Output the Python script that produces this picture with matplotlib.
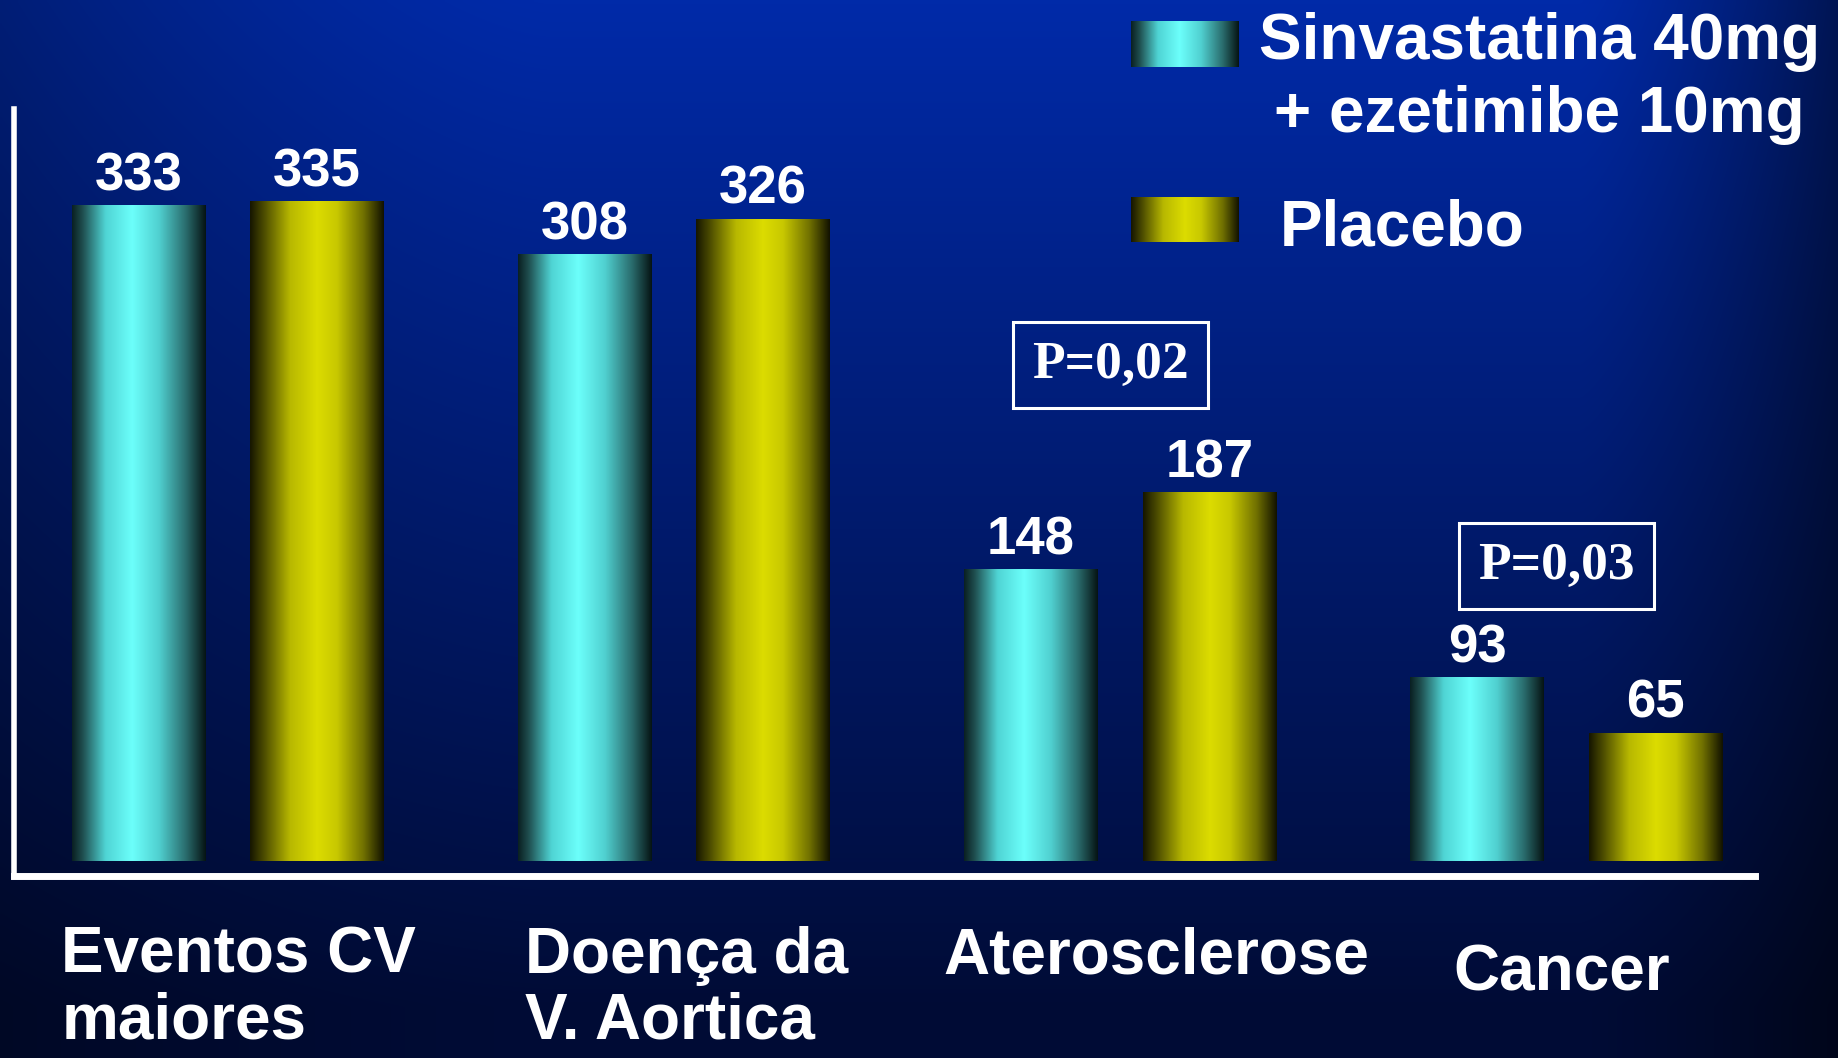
import numpy as np
import matplotlib
matplotlib.use("Agg")
import matplotlib.pyplot as plt
from matplotlib.colors import LinearSegmentedColormap
from matplotlib.transforms import blended_transform_factory

# ---------------- data ----------------
categories = ["Eventos CV\nmaiores", "Doença da\nV. Aortica", "Aterosclerose", "Cancer"]
sinva_eze = [333, 308, 148, 93]
placebo = [335, 326, 187, 65]
series_names = ["Sinvastatina 40mg\n+ ezetimibe 10mg", "Placebo"]
p_texts = ["P=0,02", "P=0,03"]
p_categories = [2, 3]
p_text_y = [252, 150]

# ---------------- layout / style ----------------
W, H, DPI = 18.38, 10.58, 100
label_dx = [0.025, 0.028, 0.08, -0.01]      # small horizontal nudges of category labels
label_top = [0.125, 0.125, 0.124, 0.108]    # figure-fraction top of category labels
bold_sans = ["Liberation Sans", "DejaVu Sans"]
bold_serif = ["Liberation Serif", "DejaVu Serif"]

cyan_cmap = LinearSegmentedColormap.from_list("cyl_cyan", [
    (0.00, "#0a2022"), (0.08, "#1f4f50"), (0.25, "#4fd4d4"), (0.45, "#6cfffb"),
    (0.65, "#50d0d0"), (0.85, "#2a6d6e"), (1.00, "#061414")])
yellow_cmap = LinearSegmentedColormap.from_list("cyl_yellow", [
    (0.00, "#161600"), (0.10, "#4a4a00"), (0.30, "#b8b800"), (0.50, "#dcdc00"),
    (0.65, "#c8c800"), (0.85, "#707000"), (1.00, "#121200")])
grad = np.linspace(0, 1, 256).reshape(1, -1)

fig = plt.figure(figsize=(W, H), dpi=DPI)

# background gradient
bg = fig.add_axes([0, 0, 1, 1], zorder=-10)
ny, nx = 300, 600
yy = np.linspace(0, 1, ny)[:, None]
xx = np.linspace(0, 1, nx)[None, :]
top = np.array([0.0, 0.165, 0.66])
bottom = np.array([0.0, 0.045, 0.21])
t = np.clip(yy * 1.05, 0, 1)
base = top[None, None, :] * (1 - t[..., None]) + bottom[None, None, :] * t[..., None]
hfac = 1 - 0.5 * np.clip((xx - 0.86) / 0.14, 0, 1) ** 1.3 - 0.3 * np.clip((0.3 - xx) / 0.3, 0, 1) ** 1.5
img = base * hfac[..., None]
bg.imshow(img, aspect="auto", extent=[0, 1, 0, 1], interpolation="bilinear")
bg.set_axis_off()

# main axes
ax = fig.add_axes([0.0077, 0.1717, 0.947, 0.7253])
ax.set_facecolor("none")
x = np.arange(len(categories))
width, off = 0.30, 0.20

for vals, cmap, sign in [(sinva_eze, cyan_cmap, -1), (placebo, yellow_cmap, 1)]:
    bars = ax.bar(x + sign * off, vals, width=width, color="none", edgecolor="none", zorder=2)
    for rect, v in zip(bars, vals):
        x0 = rect.get_x()
        ax.imshow(grad, cmap=cmap, aspect="auto", interpolation="bilinear",
                  extent=[x0, x0 + rect.get_width(), 0, rect.get_height()], zorder=2)
        ax.annotate(str(v), (x0 + rect.get_width() / 2, rect.get_height()),
                    xytext=(0, 11), textcoords="offset points", ha="center", va="baseline",
                    color="white", fontsize=38, fontweight="bold", family=bold_sans)

ax.set_xlim(-0.4786, 3.422)
ax.set_ylim(-7.7, 382)
for s in ["top", "right"]:
    ax.spines[s].set_visible(False)
ax.spines["left"].set_color("white")
ax.spines["left"].set_linewidth(4)
ax.spines["bottom"].set_color("white")
ax.spines["bottom"].set_linewidth(5)
ax.set_xticks([])
ax.set_yticks([])

# p-value boxes
for c, txt, yv in zip(p_categories, p_texts, p_text_y):
    ax.text(c - 0.022, yv, txt, ha="center", va="center", color="white", fontsize=38.5,
            fontweight="bold", family=bold_serif,
            bbox=dict(boxstyle="square,pad=0.36", fc="none", ec="white", lw=2.2))

# category labels
tr = blended_transform_factory(ax.transData, fig.transFigure)
for i, lab in enumerate(categories):
    ax.text(i + label_dx[i], label_top[i], lab, transform=tr, ha="center", va="top",
            multialignment="left", color="white", fontsize=46, fontweight="bold",
            family=bold_sans, linespacing=1.13, clip_on=False)

# legend
for name, cmap, (sx, sy) in zip(series_names, [cyan_cmap, yellow_cmap],
                                [(0.6154, 0.9369), (0.6154, 0.7708)]):
    sw = fig.add_axes([sx, sy, 0.0587, 0.0432])
    sw.imshow(grad, cmap=cmap, aspect="auto", interpolation="bilinear")
    sw.set_axis_off()
fig.text(0.8374, 0.926, series_names[0], ha="center", va="center", multialignment="center",
         color="white", fontsize=46, fontweight="bold", family=bold_sans, linespacing=1.28)
fig.text(0.6964, 0.784, series_names[1], ha="left", va="center",
         color="white", fontsize=46, fontweight="bold", family=bold_sans)

fig.savefig("out.png", dpi=DPI)
